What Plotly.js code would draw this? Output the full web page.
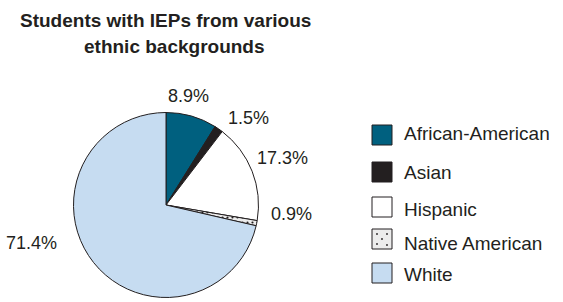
<!DOCTYPE html>
<html>
<head>
<meta charset="utf-8">
<script src="https://cdn.plot.ly/plotly-3.0.1.min.js"></script>
<style>html,body{margin:0;padding:0;background:#fff;}#chart{width:563px;height:302px;}</style>
</head>
<body>
<div id="chart"></div>
<script>
var categories = ["African-American", "Asian", "Hispanic", "Native American", "White"];
var values = [8.9, 1.5, 17.3, 0.9, 71.4];
var labelTexts = ["8.9%", "1.5%", "17.3%", "0.9%", "71.4%"];
var titleLines = ["Students with IEPs from various", "ethnic backgrounds"];

var colors = ["#00607f", "#231f20", "#ffffff", "#ececec", "#c6dcf1"];
var patterns = ["", "", "", ".", ""];

var FONT = "Liberation Sans, Arial, Helvetica, sans-serif";
var W = 563, H = 302;
function px(x) { return x / W; }
function py(y) { return (H - y) / H; }

var trace = {
  type: "pie",
  labels: categories,
  values: values,
  text: labelTexts,
  textinfo: "none",
  sort: false,
  direction: "clockwise",
  rotation: 0,
  showlegend: false,
  hoverinfo: "label+text",
  marker: {
    colors: colors,
    line: {color: "#231f20", width: 1},
    pattern: {shape: patterns, fgcolor: "#231f20", bgcolor: colors, size: 5, solidity: 0.15}
  },
  domain: {x: [px(166 - 92.5), px(166 + 92.5)], y: [py(297.5), py(112.5)]}
};

// label placement (pixel positions of the percentage labels)
var labelPos = [[188, 96], [248, 118], [283, 158], [291, 214], [31, 243]];
// legend placement
var legendBoxY = [135, 172, 207, 239, 273];
var legendTextY = [133, 173, 209, 243, 274];
var titlePos = [[165, 20], [174, 46]];

var shapes = [], annotations = [];
titleLines.forEach(function (t, i) {
  annotations.push({
    xref: "paper", yref: "paper", x: px(titlePos[i][0]), y: py(titlePos[i][1]),
    xanchor: "center", yanchor: "middle", showarrow: false,
    text: "<b>" + t + "</b>", font: {family: FONT, size: 19, color: "#231f20"}
  });
});
labelTexts.forEach(function (t, i) {
  annotations.push({
    xref: "paper", yref: "paper", x: px(labelPos[i][0]), y: py(labelPos[i][1]),
    xanchor: "center", yanchor: "middle", showarrow: false,
    text: t, font: {family: FONT, size: 18, color: "#231f20"}
  });
});
categories.forEach(function (c, i) {
  var y = legendBoxY[i];
  shapes.push({
    type: "rect", xref: "paper", yref: "paper",
    x0: px(372), x1: px(392), y0: py(y + 10), y1: py(y - 10),
    fillcolor: colors[i], line: {color: "#231f20", width: 1}
  });
  annotations.push({
    xref: "paper", yref: "paper", x: px(402), y: py(legendTextY[i]),
    xanchor: "left", yanchor: "middle", showarrow: false,
    text: c, font: {family: FONT, size: 19, color: "#231f20"}
  });
});
// dots for Native American legend box
var dots = [[377, 234], [387, 234], [382, 239], [377, 244], [387, 245]];
dots.forEach(function (d) {
  shapes.push({
    type: "circle", xref: "paper", yref: "paper",
    x0: px(d[0] - 0.9), x1: px(d[0] + 0.9), y0: py(d[1] + 0.9), y1: py(d[1] - 0.9),
    fillcolor: "#231f20", line: {width: 0}
  });
});

var layout = {
  width: W, height: H,
  margin: {l: 0, r: 0, t: 0, b: 0},
  paper_bgcolor: "#ffffff",
  shapes: shapes,
  annotations: annotations
};

Plotly.newPlot("chart", [trace], layout, {displayModeBar: false, staticPlot: true});
</script>
</body>
</html>
